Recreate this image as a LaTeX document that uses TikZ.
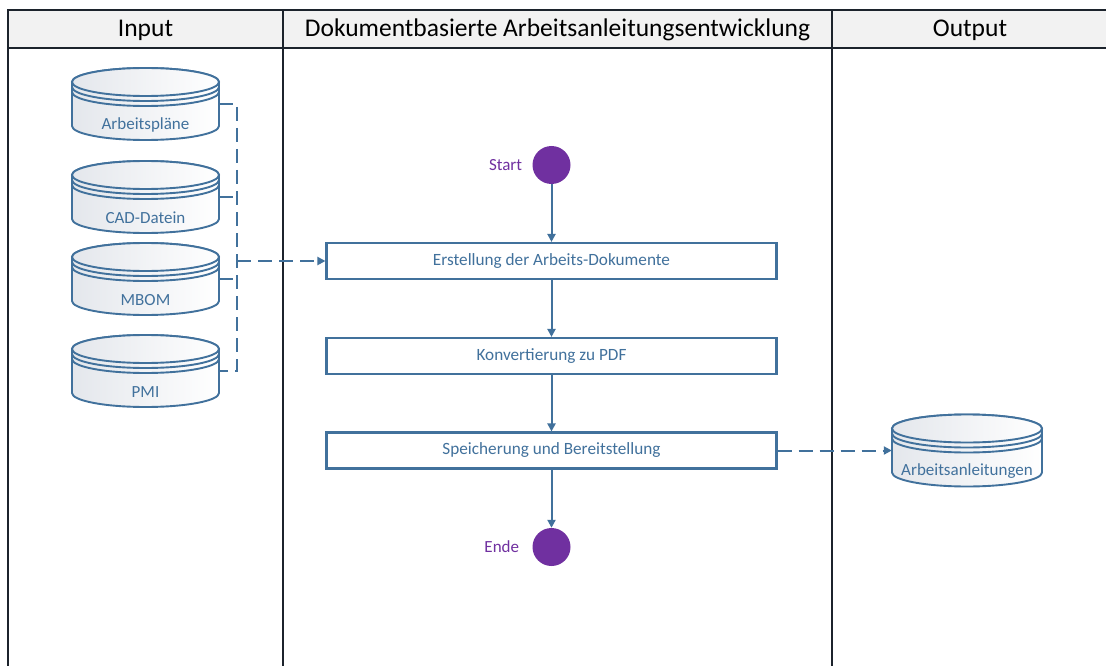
\documentclass[tikz,border=0pt]{standalone}
\usepackage{fontspec}
\setmainfont{Carlito}
\usetikzlibrary{arrows.meta,calc,positioning}

\definecolor{vblue}{HTML}{41719C}
\definecolor{vpurple}{HTML}{7030A0}
\definecolor{hdrfill}{HTML}{F2F2F2}
\definecolor{framec}{HTML}{1C232C}
\definecolor{cylshade}{HTML}{E4E7EC}

% data store drawn as a stacked cylinder: name, x, y, half width, label
\newcommand\storecyl[5]{%
  \node[cylslot, minimum width=#4*2pt] (#1) at (#2,#3) {};
  \begin{scope}[shift={(#1.center)}]
    \path[cylline, left color=cylshade, right color=white]
      (-#4,-22) -- (-#4,22)
      arc[start angle=180, end angle=360, x radius=#4pt, y radius=14pt]
      -- (#4,-22)
      arc[start angle=0, end angle=180, x radius=#4pt, y radius=14pt] -- cycle;
    \path[cylline, left color=cylshade, right color=white]
      (0,-22) ellipse[x radius=#4pt, y radius=14pt];
    \draw[cylline] (-#4,-17) arc[start angle=180, end angle=360, x radius=#4pt, y radius=14pt];
    \draw[cylline] (-#4,-12) arc[start angle=180, end angle=360, x radius=#4pt, y radius=14pt];
    \node[cyltext] at (0,21) {#5};
  \end{scope}
}

\begin{document}
\begin{tikzpicture}[x=1pt, y=-1pt,
  lane/.style={draw=framec, line width=2.2pt},
  hdr/.style={font=\fontsize{25.5}{30}\selectfont, text=black},
  stepbox/.style={draw=vblue, line width=2.1pt, fill=white, minimum width=450pt,
    minimum height=36pt, inner sep=0pt, text=vblue, font=\fontsize{17.2}{20}\selectfont},
  cylslot/.style={inner sep=0pt, minimum height=72pt},
  cylline/.style={draw=vblue, line width=1.9pt},
  cyltext/.style={text=vblue, font=\fontsize{17}{20}\selectfont, inner sep=0pt},
  terminal/.style={circle, fill=vpurple, minimum size=38pt, inner sep=0pt},
  termlabel/.style={text=vpurple, font=\fontsize{17}{20}\selectfont, inner sep=0pt},
  conn/.style={draw=vblue, line width=2pt},
  dashconn/.style={conn, dash pattern=on 14pt off 7pt},
  tip/.style={-{Triangle[length=8pt,width=8pt]}}
]
\useasboundingbox (0,0) rectangle (1106,666);
\fill[white] (0,0) rectangle (1106,666);
\clip (0,0) rectangle (1106,666);

% swimlane frame and header
\path[lane, fill=hdrfill] (8,10) rectangle (1120,48);
\draw[lane] (8,48) -- (8,680);
\draw[lane] (283,10) -- (283,680);
\draw[lane] (832,10) -- (832,680);
\node[hdr] (hin) at (145.5,30) {Input};
\node[hdr] (hmid) at (557.5,30) {Dokumentbasierte Arbeitsanleitungsentwicklung};
\node[hdr] (hout) at (970,30) {Output};

% input stores
\storecyl{a1}{145.5}{104}{73.5}{Arbeitspläne}
\storecyl{a2}{145.5}{197}{73.5}{CAD-Datein}
\storecyl{a3}{145.5}{279}{73.5}{MBOM}
\storecyl{a4}{145.5}{371}{73.5}{PMI}

% output store
\storecyl{o1}{967}{450.5}{75}{Arbeitsanleitungen}

% process steps
\node[terminal] (start) at (551.5,165) {};
\node[termlabel, left=10pt of start] (startlbl) {Start};
\node[stepbox] (b1) at (551.5,261) {Erstellung der Arbeits-Dokumente};
\node[stepbox] (b2) at (551.5,356) {Konvertierung zu PDF};
\node[stepbox] (b3) at (551.5,450.5) {Speicherung und Bereitstellung};
\node[terminal] (ende) at (551.5,547) {};
\node[termlabel, left=13pt of ende] (endelbl) {Ende};

% control flow
\draw[conn, tip] (start) -- (b1);
\draw[conn, tip] (b1) -- (b2);
\draw[conn, tip] (b2) -- (b3);
\draw[conn, tip] (b3) -- (ende);

% data flow from inputs into the first step
\coordinate (bus) at ($(a1.east)+(18,0)$);
\draw[dashconn] (a1.east) -- (bus) -- (bus |- a4.east) -- (a4.east);
\draw[dashconn] (a2.east) -- (a2.east -| bus);
\draw[dashconn] (a3.east) -- (a3.east -| bus);
\draw[dashconn, tip] (bus |- b1.west) -- (b1.west);

% data flow to the output store
\draw[dashconn, tip] (b3.east) -- (o1.west);
\end{tikzpicture}
\end{document}
